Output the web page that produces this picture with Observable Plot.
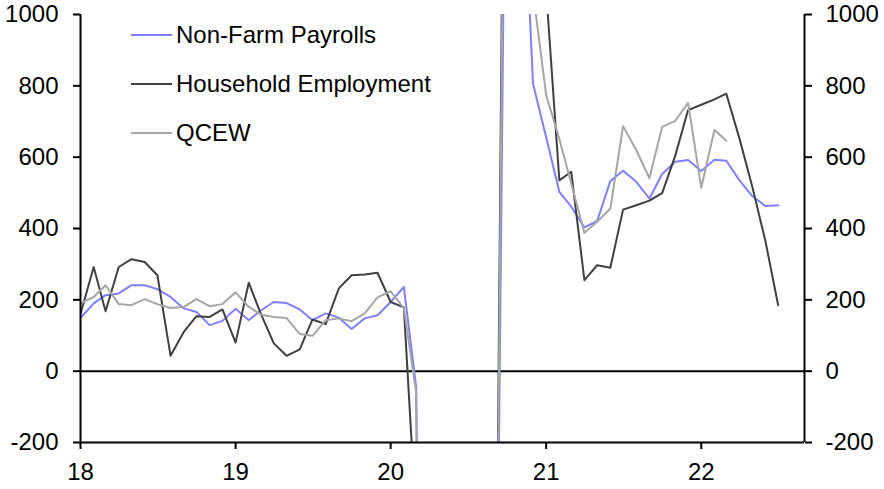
<!DOCTYPE html>
<html><head><meta charset="utf-8">
<script src="https://cdn.jsdelivr.net/npm/d3@7"></script>
<script src="https://cdn.jsdelivr.net/npm/@observablehq/plot@0.6"></script>
<style>body{margin:0;background:#fff} #chart svg{display:block}</style>
</head><body><div id="chart"></div>
<script>
// Monthly data, 6-month average changes (000s), starting Jan 2018
const startYear = 2018;
const nfp = [149,190,213,218,241,241,230,208,176,166,129,141,
  175,143,170,194,191,173,143,162,150,118,148,157,
  194,236,-45,-3520,-3100,-2320,-2070,-1840,-1500,2060,1600,806,
  656,503,461,403,421,533,562,531,484,553,587,592,
  561,593,590,535,491,463,465];
const household = [160,292,168,292,314,306,269,43,110,154,152,173,
  80,248,162,78,43,61,145,132,232,269,271,276,
  194,179,-420,-4000,-3300,-2500,-2300,-1700,-1370,2730,2075,1255,
  1067,535,559,255,297,290,453,465,478,499,605,732,
  747,762,778,652,518,365,185];
const qcew = [190,208,241,188,185,202,188,177,180,202,182,188,
  221,180,159,152,149,104,99,143,148,140,162,207,
  224,177,-60,-3600,-3000,-2300,-2000,-1800,-1450,2500,1700,1064,
  774,651,526,388,419,456,687,620,541,685,702,752,
  514,676,646];
const seriesNames = ["Non-Farm Payrolls","Household Employment","QCEW"];
const seriesColors = ["#7f7fff","#404040","#a6a6a6"];
const yTicks = [-200,0,200,400,600,800,1000];
const xTickYears = [2018,2019,2020,2021,2022];
const xDomain = [new Date(Date.UTC(2018,0,1)), new Date(Date.UTC(2022,8,1))];

const monthDate = i => new Date(Date.UTC(startYear, i, 1));
const toRows = (arr, name) => arr.map((v,i) => ({date: monthDate(i), value: v, series: name}));
const allSeries = [nfp, household, qcew].map((a,k) => toRows(a, seriesNames[k]));
const xTicks = xTickYears.map(y => new Date(Date.UTC(y,0,1)));

const chart = Plot.plot({
  width: 884, height: 489,
  marginLeft: 80, marginRight: 80, marginTop: 14, marginBottom: 47,
  style: {fontFamily: "'Liberation Sans', Arial, sans-serif", fontSize: "24px", color: "#000", background: "#fff"},
  x: {type: "utc", domain: xDomain, label: null},
  y: {domain: [-200, 1000], label: null},
  marks: [
    Plot.ruleY([0], {stroke: "#000", strokeWidth: 2}),
    ...allSeries.map((rows,k) => Plot.lineY(rows, {x: "date", y: "value", stroke: seriesColors[k], strokeWidth: 2, clip: true})),
    Plot.ruleY([-200], {stroke: "#000", strokeWidth: 2}),
    Plot.ruleX(xDomain, {stroke: "#000", strokeWidth: 2}),
    Plot.axisY(yTicks, {anchor: "left", tickSize: 7, tickPadding: 15, strokeWidth: 2, fontSize: 24, label: null, tickFormat: d => String(d)}),
    Plot.axisY(yTicks, {anchor: "right", tickSize: 7, tickPadding: 14, strokeWidth: 2, fontSize: 24, label: null, tickFormat: d => String(d)}),
    Plot.axisX(xTicks, {anchor: "bottom", tickSize: 7, tickPadding: 13, strokeWidth: 2, fontSize: 24, label: null,
      tickFormat: d => String(d.getUTCFullYear() % 100)})
  ]
});
document.getElementById("chart").appendChild(chart);

// Legend inside the plot area
const svg = d3.select(chart);
const lg = svg.append("g").attr("font-family", "'Liberation Sans', Arial, sans-serif").attr("font-size", 24).attr("text-anchor", "start");
seriesNames.forEach((name, k) => {
  const y = 35 + k * 49;
  lg.append("line").attr("x1", 131).attr("x2", 172).attr("y1", y).attr("y2", y)
    .attr("stroke", seriesColors[k]).attr("stroke-width", 2);
  lg.append("text").attr("x", 176).attr("y", y).attr("dy", "0.35em").attr("fill", "#000").attr("text-anchor", "start").text(name);
});
</script>
</body></html>
